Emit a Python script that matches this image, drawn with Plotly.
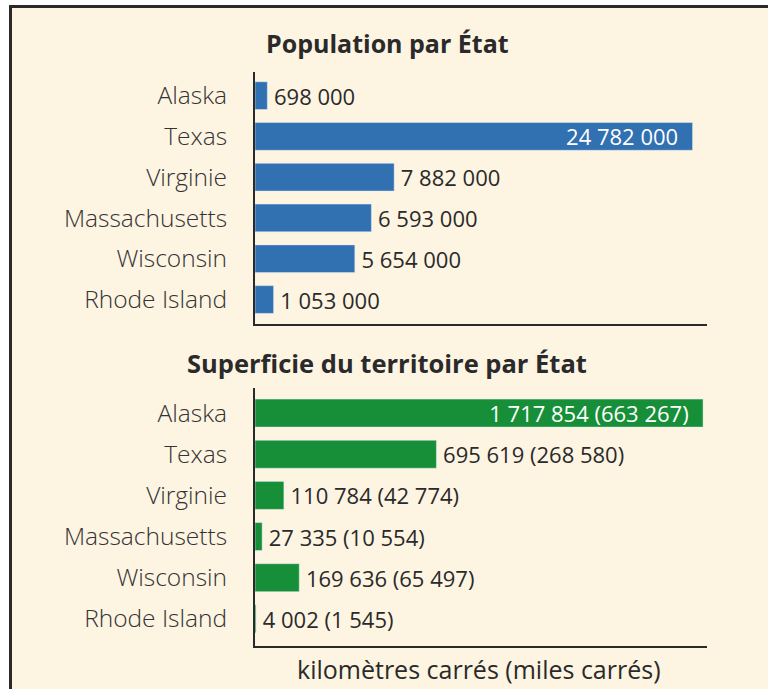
import plotly.graph_objects as go

states = ["Alaska", "Texas", "Virginie", "Massachusetts", "Wisconsin", "Rhode Island"]
population = [698000, 24782000, 7882000, 6593000, 5654000, 1053000]
area_km2 = [1717854, 695619, 110784, 27335, 169636, 4002]
area_mi2 = [663267, 268580, 42774, 10554, 65497, 1545]

title_pop = "Population par État"
title_area = "Superficie du territoire par État"
axis_label = "kilomètres carrés (miles carrés)"

BLUE = "#3170b1"
GREEN = "#168f38"
CREAM = "#fdf4e2"
DARK = "#2a2a2a"
FONT = "Open Sans"
NB = "\u00a0"
THIN = "\u2009"

W, H = 768, 689
L, R = 255, 707


def fmt(v):
    return f"{v:,}".replace(",", " ")


def px_x(p):
    return (p - L) / (R - L)


def px_y(p):
    return (H - p) / H


pop_text = [fmt(v) for v in population]
area_text = [f"{fmt(a)} ({fmt(b)})" for a, b in zip(area_km2, area_mi2)]

pop_pos = ["inside" if v / max(population) > 0.9 else "outside" for v in population]
area_pos = ["inside" if v / max(area_km2) > 0.9 else "outside" for v in area_km2]


def templ(pos):
    return ["%{text}" + NB * 2 if p == "inside" else THIN + "%{text}" for p in pos]


label_font = dict(size=22, family=FONT, weight=500)

fig = go.Figure()
fig.add_trace(go.Bar(
    y=states, x=population, orientation="h", marker_color=BLUE, width=0.68,
    text=pop_text, texttemplate=templ(pop_pos), textposition=pop_pos,
    insidetextanchor="end", constraintext="none",
    insidetextfont=dict(label_font, color="white"),
    outsidetextfont=dict(label_font, color=DARK),
    cliponaxis=False, xaxis="x", yaxis="y", hoverinfo="skip",
))
fig.add_trace(go.Bar(
    y=states, x=area_km2, orientation="h", marker_color=GREEN, width=0.68,
    text=area_text, texttemplate=templ(area_pos), textposition=area_pos,
    insidetextanchor="end", constraintext="none",
    insidetextfont=dict(label_font, color="white"),
    outsidetextfont=dict(label_font, color=DARK),
    cliponaxis=False, xaxis="x2", yaxis="y2", hoverinfo="skip",
))

yax = dict(
    type="category", categoryorder="array", categoryarray=states,
    range=[5.6, -0.58], showline=True, linecolor=DARK, linewidth=2,
    ticks="", showgrid=False, zeroline=False,
    tickfont=dict(family=FONT, size=24.5, color="#333333", weight=300),
    ticklabelstandoff=21, fixedrange=True,
)
xax = dict(
    showline=True, linecolor=DARK, linewidth=2, showgrid=False,
    zeroline=False, showticklabels=False, ticks="", fixedrange=True,
)

fig.update_layout(
    width=W, height=H,
    margin=dict(l=L, r=W - R, t=0, b=0, autoexpand=False),
    paper_bgcolor="white", plot_bgcolor="rgba(0,0,0,0)",
    showlegend=False, barmode="overlay",
    uniformtext=dict(mode="show", minsize=22),
    font=dict(family=FONT, color=DARK),
    xaxis=dict(xax, domain=[0, 1], anchor="y", range=[0, 25.6e6]),
    yaxis=dict(yax, domain=[px_y(324), px_y(72)], anchor="x"),
    xaxis2=dict(xax, domain=[0, 1], anchor="y2", range=[0, 1.733e6]),
    yaxis2=dict(yax, domain=[px_y(646), px_y(388)], anchor="x2",
                range=[5.66, -0.61]),
    shapes=[dict(
        type="rect", xref="paper", yref="paper", layer="below",
        x0=px_x(10.5), x1=2, y0=-1, y1=px_y(6.5),
        fillcolor=CREAM, line=dict(color=DARK, width=3),
    )],
    annotations=[
        dict(text=f"<b>{title_pop}</b>", xref="paper", yref="paper",
             x=px_x(387), y=px_y(43), xanchor="center", yanchor="middle",
             showarrow=False, font=dict(size=25, family=FONT, color=DARK)),
        dict(text=f"<b>{title_area}</b>", xref="paper", yref="paper",
             x=px_x(387), y=px_y(363), xanchor="center", yanchor="middle",
             showarrow=False, font=dict(size=25.5, family=FONT, color=DARK)),
        dict(text=axis_label, xref="paper", yref="paper",
             x=px_x(479), y=px_y(669), xanchor="center", yanchor="middle",
             showarrow=False,
             font=dict(size=25, family=FONT, color=DARK, weight=500)),
    ],
)

fig.write_html("out.html")
